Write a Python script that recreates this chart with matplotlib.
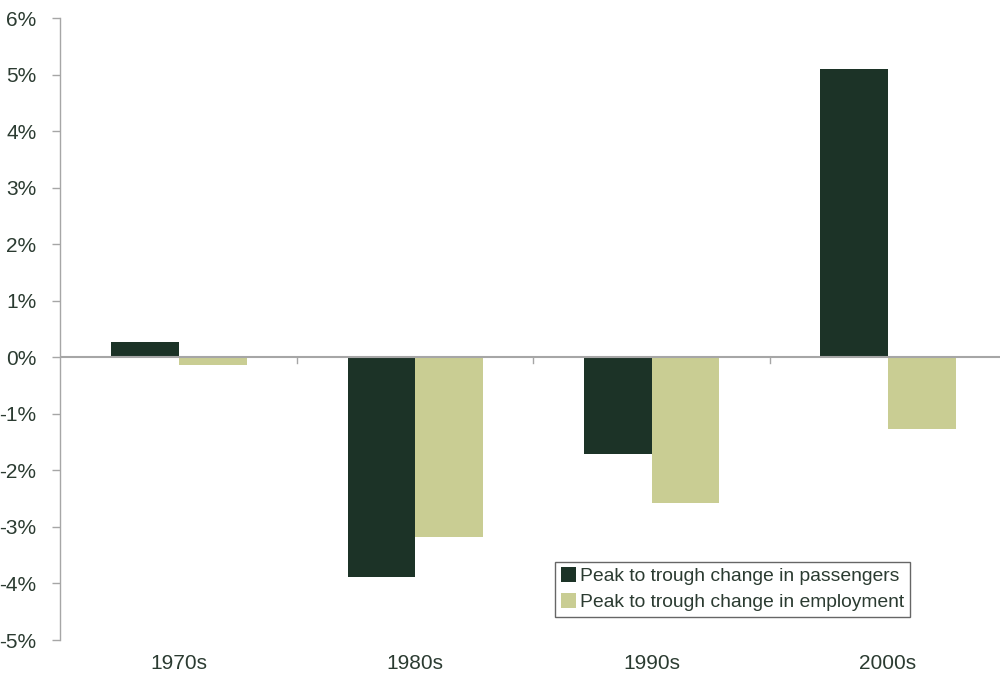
import matplotlib.pyplot as plt
from matplotlib.ticker import FuncFormatter
import numpy as np

# Données
decades = ['1970s', '1980s', '1990s', '2000s']
passengers = [0.27, -3.89, -1.71, 5.10]
employment = [-0.14, -3.18, -2.58, -1.27]
labels = ['Peak to trough change in passengers', 'Peak to trough change in employment']

dark = '#1C3327'
light = '#C9CD93'
txt = '#2B3B31'
grey = '#A6A6A6'

plt.rcParams['font.family'] = ['Liberation Sans', 'DejaVu Sans']

fig = plt.figure(figsize=(10.03, 6.75), dpi=100)
ax = fig.add_axes([60/1003, 35/675, 940/1003, 622/675])

x = np.arange(len(decades))
w = 0.2857
ax.bar(x - w/2, passengers, w, color=dark, label=labels[0], zorder=2)
ax.bar(x + w/2, employment, w, color=light, label=labels[1], zorder=2)

ax.set_xlim(-0.5036, 3.474)
ax.set_ylim(-5, 6)
ax.set_yticks(range(-5, 7))
ax.yaxis.set_major_formatter(FuncFormatter(lambda v, p: f'{v:.0f}%'))

# Ligne du zéro et petites graduations entre catégories
ax.axhline(0, color=grey, lw=1.5, zorder=3)
for b in x[:-1] + 0.5:
    ax.plot([b, b], [0, -0.1], color=grey, lw=1, zorder=3)

for s in ['top', 'right', 'bottom']:
    ax.spines[s].set_visible(False)
ax.spines['left'].set_color(grey)
ax.spines['left'].set_linewidth(1)
ax.tick_params(axis='y', colors=grey, labelcolor=txt, labelsize=15, length=6, width=1, pad=11)
ax.set_xticks(x)
ax.set_xticklabels(decades)
ax.tick_params(axis='x', length=0, labelcolor=txt, labelsize=15, pad=10)

# Légende encadrée en bas à droite
leg = ax.legend(loc='lower left', bbox_to_anchor=(495/940, 23/622), fontsize=13.9,
                frameon=True, fancybox=False, edgecolor='#404040', handlelength=0.8,
                handleheight=0.8, handletextpad=0.2, borderpad=0.3, labelspacing=0.4,
                borderaxespad=0)
leg.get_frame().set_linewidth(1)
for t in leg.get_texts():
    t.set_color(txt)

plt.savefig('out.png', dpi=100)
